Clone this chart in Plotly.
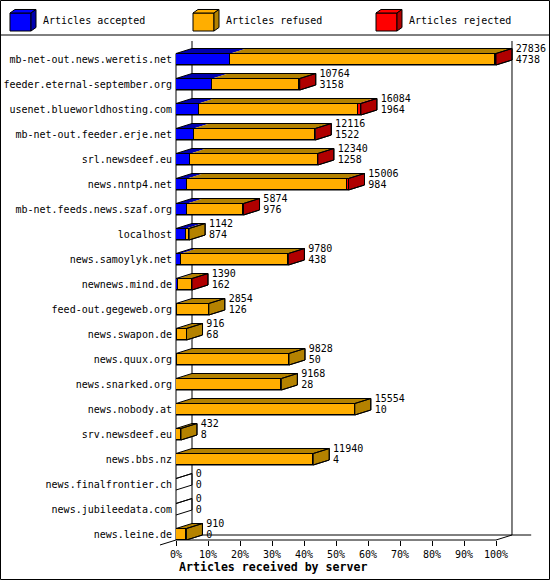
import plotly.graph_objects as go

# --- data ---
servers = [
    "mb-net-out.news.weretis.net", "feeder.eternal-september.org", "usenet.blueworldhosting.com",
    "mb-net-out.feeder.erje.net", "srl.newsdeef.eu", "news.nntp4.net", "mb-net.feeds.news.szaf.org",
    "localhost", "news.samoylyk.net", "newnews.mind.de", "feed-out.gegeweb.org", "news.swapon.de",
    "news.quux.org", "news.snarked.org", "news.nobody.at", "srv.newsdeef.eu", "news.bbs.nz",
    "news.finalfrontier.ch", "news.jubileedata.com", "news.leine.de",
]
offered = [27836, 10764, 16084, 12116, 12340, 15006, 5874, 1142, 9780, 1390,
           2854, 916, 9828, 9168, 15554, 432, 11940, 0, 0, 910]
accepted = [4738, 3158, 1964, 1522, 1258, 984, 976, 874, 438, 162,
            126, 68, 50, 28, 10, 8, 4, 0, 0, 0]
refused = [23038, 7566, 13860, 10564, 11052, 13852, 4878, 268, 9302, 1218,
           2728, 848, 9778, 9140, 15544, 424, 11936, 0, 0, 910]
rejected = [60, 40, 260, 30, 30, 170, 20, 0, 40, 10,
            0, 0, 0, 0, 0, 0, 0, 0, 0, 0]
x_ticks = list(range(0, 101, 10))
x_ticktext = [f"{t}%" for t in x_ticks]

series = [("Articles accepted", accepted, "#0000ff", "#0000b0"),
          ("Articles refused", refused, "#ffae00", "#b48200"),
          ("Articles rejected", rejected, "#ff0000", "#b00000")]

# --- geometry ---
W, H = 550, 580
L, R, T, B = 176, 6, 36, 40
PW, PH = W - L - R, H - T - B
XMAX = 115.0                     # % units across plot width
PITCH = 25.0                     # px per row
ROW0 = 59.25                     # px centre of first row
YTOP = (T - ROW0) / PITCH
YBOT = (H - B - ROW0) / PITCH
DX, DY = 5.0, 0.2                # 3d depth in data units
HALF = 0.23                      # half bar height

MAXV = max(offered)
def pct(v):
    return v / MAXV * 100

def paper(u, v):
    # data coords -> paper coords (for frame lines outside plot area)
    px = L + u * PW / XMAX
    py = ROW0 + v * PITCH
    return (px - L) / PW, (H - B - py) / PH

def pxp(px, py):
    return (px - L) / PW, (H - B - py) / PH

rows = list(range(len(servers)))
fig = go.Figure()

# front faces
for name, vals, col, dark in series:
    fig.add_trace(go.Bar(y=rows, x=[pct(v) for v in vals], orientation="h", width=2 * HALF,
                         marker=dict(color=col, line=dict(color="black", width=1)),
                         hoverinfo="skip", showlegend=False))

# top faces and side faces
ends = []
for i in rows:
    s = 0.0
    segs = []
    for name, vals, col, dark in series:
        e = s + pct(vals[i])
        segs.append((s, e, dark))
        s = e
    ends.append(s)
    t = i - HALF
    b = i + HALF
    for s0, e0, dark in segs:
        if e0 > s0:
            fig.add_trace(go.Scatter(x=[s0, e0, e0 + DX, s0 + DX, s0], y=[t, t, t - DY, t - DY, t],
                                     fill="toself", fillcolor=dark, mode="lines", line=dict(width=0),
                                     hoverinfo="skip", showlegend=False))
    last = [sg for sg in segs if sg[1] > sg[0]]
    E = s
    if last:
        fig.add_trace(go.Scatter(x=[E, E + DX, E + DX, E, E], y=[t, t - DY, b - DY, b, t],
                                 fill="toself", fillcolor=last[-1][2], mode="lines",
                                 line=dict(color="black", width=1), hoverinfo="skip", showlegend=False))
    # box outline
    fig.add_trace(go.Scatter(x=[0, E, E + DX, DX, 0, None, E + DX, E + DX, E, 0],
                             y=[t, t, t - DY, t - DY, t, None, t - DY, b - DY, b, b],
                             mode="lines", line=dict(color="black", width=1),
                             hoverinfo="skip", showlegend=False))

# value labels
lab_x = [e + DX + 1.2 for e in ends]
fig.add_trace(go.Scatter(x=lab_x, y=[i - 0.39 for i in rows], mode="text", text=[str(v) for v in offered],
                         textposition="middle right", cliponaxis=False,
                         textfont=dict(family="DejaVu Sans Mono", size=10, color="black"),
                         hoverinfo="skip", showlegend=False))
fig.add_trace(go.Scatter(x=lab_x, y=[i + 0.03 for i in rows], mode="text", text=[str(v) for v in accepted],
                         textposition="middle right", cliponaxis=False,
                         textfont=dict(family="DejaVu Sans Mono", size=10, color="black"),
                         hoverinfo="skip", showlegend=False))

# frame lines
shapes = []
def line(pts):
    p = [paper(u, v) for u, v in pts]
    d = "M " + " L ".join(f"{a:.5f},{c:.5f}" for a, c in p)
    shapes.append(dict(type="path", path=d, xref="paper", yref="paper",
                       line=dict(color="black", width=1), layer="below"))

wall_top = YTOP + 0.2
back_bot = YBOT - DY
line([(0, -HALF), (0, YBOT)])
line([(-DX, YBOT + DY), (0, YBOT), (100, YBOT), (100 + DX, back_bot)])
line([(DX, wall_top), (DX, back_bot)])
line([(100 + DX, wall_top), (100 + DX, back_bot)])
line([(DX, back_bot), (111, back_bot)])

# outer border and legend separator
x0, y0 = pxp(0.5, 0.5)
x1, y1 = pxp(549.5, 579.5)
shapes.append(dict(type="rect", xref="paper", yref="paper", x0=x0, y0=y0, x1=x1, y1=y1,
                   line=dict(color="black", width=1)))
sx0, sy = pxp(0, 35)
sx1, _ = pxp(550, 35)
shapes.append(dict(type="line", xref="paper", yref="paper", x0=sx0, x1=sx1, y0=sy, y1=sy,
                   line=dict(color="black", width=1)))

# legend: 3d icons
annotations = []
for k, (name, vals, col, dark) in enumerate(series):
    lx = 10 + 183 * k
    def poly(pts, fill):
        p = [pxp(a, c) for a, c in pts]
        d = "M " + " L ".join(f"{a:.5f},{c:.5f}" for a, c in p) + " Z"
        shapes.append(dict(type="path", path=d, xref="paper", yref="paper", fillcolor=fill,
                           line=dict(color="black", width=1)))
    poly([(lx, 13), (lx + 21, 13), (lx + 21, 31), (lx, 31)], col)
    poly([(lx, 13), (lx + 21, 13), (lx + 26, 9.5), (lx + 5, 9.5)], col)
    poly([(lx + 21, 13), (lx + 26, 9.5), (lx + 26, 27.5), (lx + 21, 31)], dark)
    ax, ay = pxp(lx + 31, 20.5)
    annotations.append(dict(text=name, x=ax, y=ay, xref="paper", yref="paper", xanchor="left",
                            yanchor="middle", showarrow=False,
                            font=dict(family="DejaVu Sans Mono", size=10, color="black")))

tx, ty = pxp(177, 567)
annotations.append(dict(text="<b>Articles received by server</b>", x=tx, y=ty, xref="paper", yref="paper",
                        xanchor="left", yanchor="middle", showarrow=False,
                        font=dict(family="DejaVu Sans Mono", size=11.6, color="black")))

fig.update_layout(
    width=W, height=H, margin=dict(l=L, r=R, t=T, b=B, autoexpand=False),
    paper_bgcolor="white", plot_bgcolor="white", barmode="stack", bargap=0,
    showlegend=False, shapes=shapes, annotations=annotations,
    xaxis=dict(range=[0, XMAX], tickvals=x_ticks, ticktext=x_ticktext, ticks="outside", ticklen=5,
               tickcolor="black", tickwidth=1, showgrid=False, zeroline=False, showline=False,
               automargin=False,
               tickfont=dict(family="DejaVu Sans Mono", size=10, color="black")),
    yaxis=dict(range=[YBOT, YTOP], tickvals=rows, ticktext=servers, ticks="", showgrid=False,
               zeroline=False, showline=False, ticklabelstandoff=3, automargin=False,
               tickfont=dict(family="DejaVu Sans Mono", size=10, color="black")),
)

# page body has a default margin; drop it so the chart sits at the window corner
fig.write_html("out.html", config={"displayModeBar": False},
               post_script="document.body.style.margin='0';")
